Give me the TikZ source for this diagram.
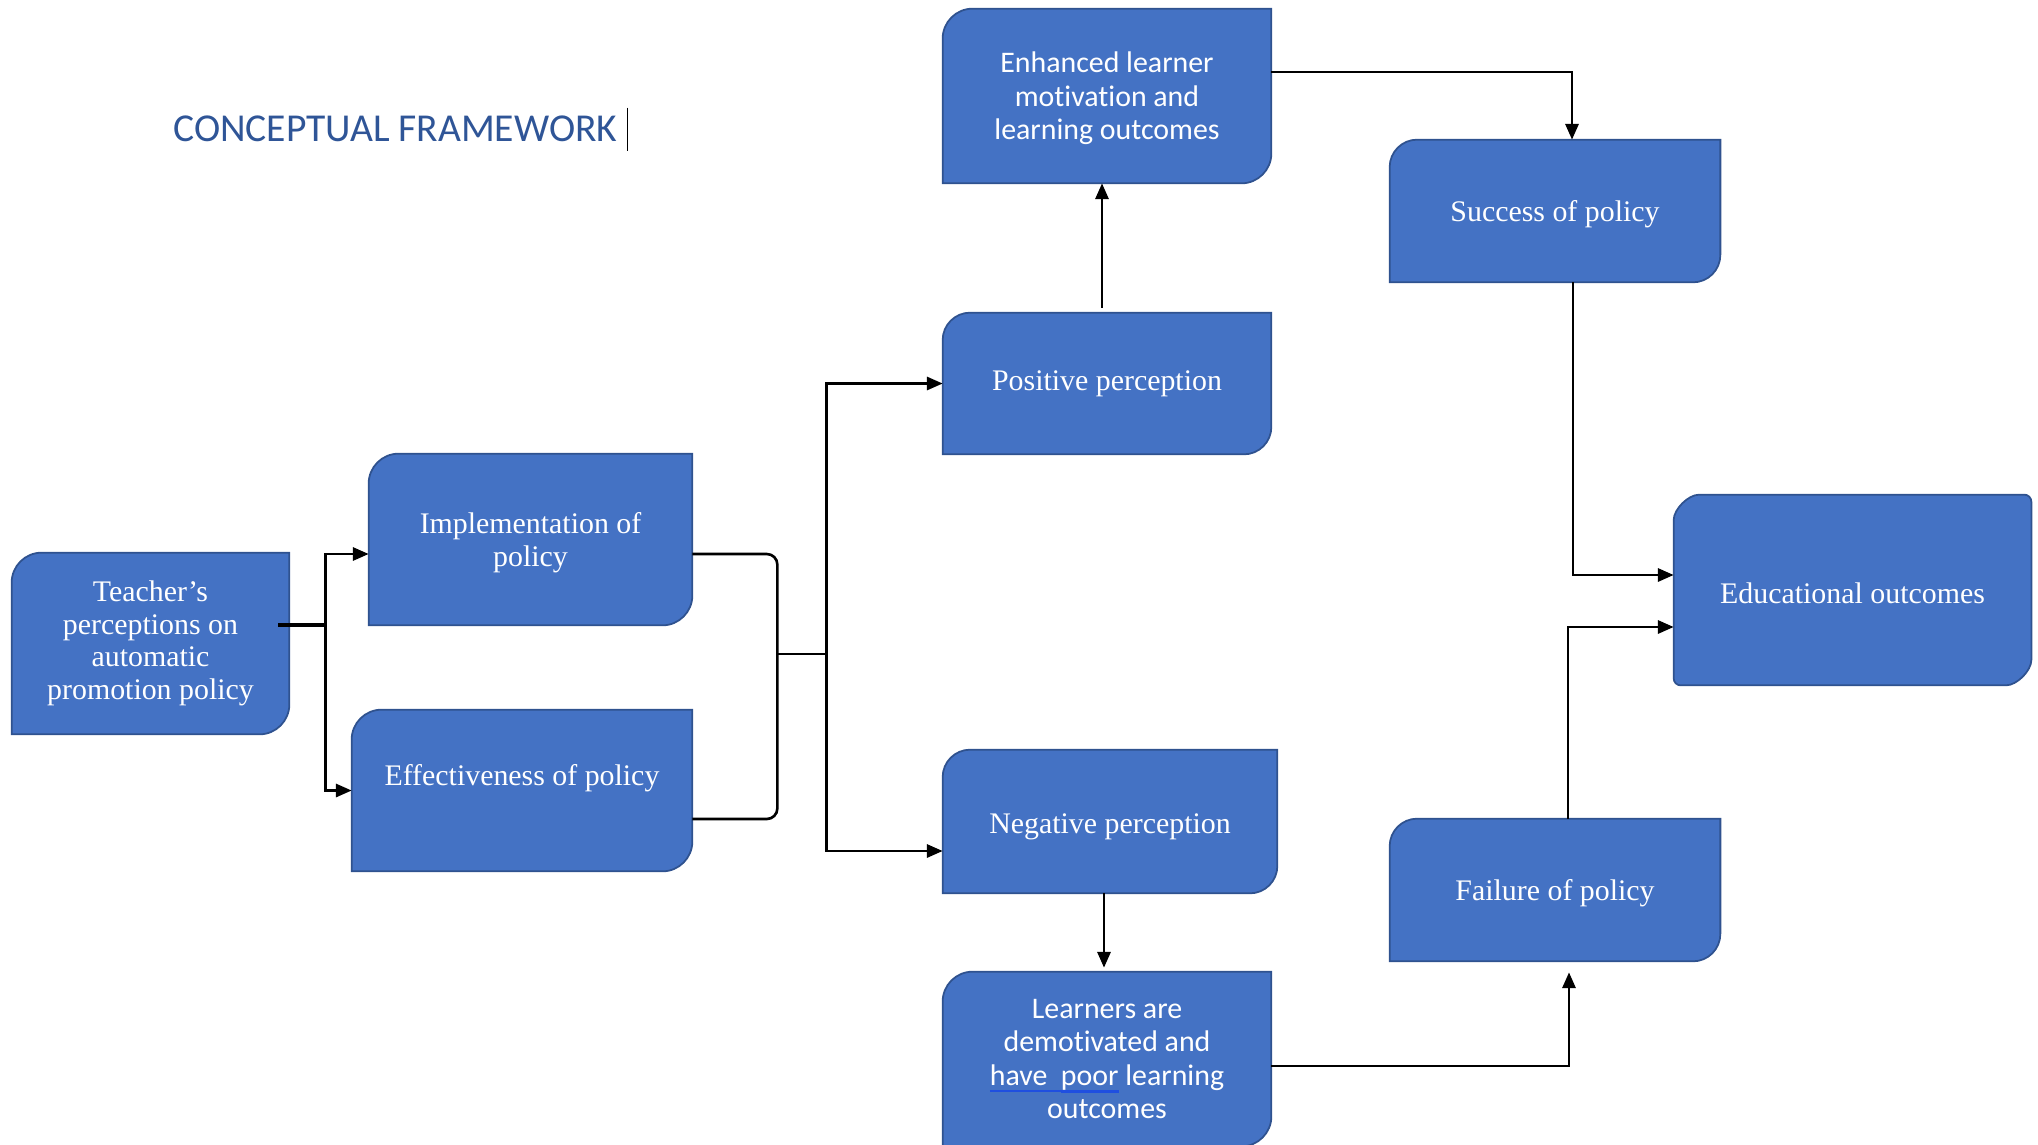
\documentclass[tikz,border=0pt]{standalone}
\usepackage{fontspec}
\setmainfont{Liberation Serif}
\newfontfamily\calibri[Ligatures=NoCommon]{Carlito}
\usetikzlibrary{arrows.meta, backgrounds}
\definecolor{boxblue}{HTML}{4472C4}
\definecolor{boxedge}{HTML}{2F528F}
\definecolor{titleblue}{HTML}{2F5597}
\definecolor{ulblue}{HTML}{1F4FE0}
\newcommand{\blueul}[2][4pt]{\leavevmode\setbox0=\hbox{#2}\rlap{\color{ulblue}\rule[-#1]{\wd0}{1.5pt}}\box0\relax}
\tikzstyle{box} = [rectangle, inner sep=0pt,
align=center, text=white,
font=\fontsize{17}{18.5}\selectfont]
\tikzstyle{calbox} = [box,
font=\calibri\fontsize{17}{19}\selectfont]
\tikzstyle{boxline} = [draw=boxedge, line width=1pt, fill=boxblue]
\tikzstyle{plaincorner} = [sharp corners]
\tikzstyle{softcorner} = [rounded corners=4pt]
\tikzstyle{line} = [line width=1.5pt]
\tikzstyle{stub} = [line width=2.6pt]
\tikzstyle{arrow} = [line width=1.5pt,-{Triangle[length=9pt,width=7.5pt]}]

\begin{document}
\begin{tikzpicture}[node distance=2cm]
                \useasboundingbox (0,0) rectangle (40.76,-22.88);

                \node (title) [anchor=west, inner sep=0pt, text=titleblue, font=\calibri\fontsize{22.5}{27}\selectfont] at (3.46,-2.58) {CONCEPTUAL FRAMEWORK};
                \draw [line width=1pt] ([xshift=0.2cm,yshift=0.43cm]title.east) -- ++(0,-0.86);

                \node (teacher) [box, minimum width=5.54cm, minimum height=3.62cm, yshift=-0.06cm] at (3.01,-12.81) {Teacher’s\\perceptions on\\automatic\\promotion policy};
                \node (impl) [box, minimum width=6.46cm, minimum height=3.42cm, right of=teacher, xshift=5.6cm, yshift=2.08cm, text depth=0pt] {Implementation of\\policy};
                \node (effect) [box, minimum width=6.8cm, minimum height=3.22cm, text depth=0.62cm, below of=impl, xshift=-0.17cm, yshift=-3.02cm] {Effectiveness of policy};
                \node (positive) [box, minimum width=6.56cm, minimum height=2.82cm, right of=impl, xshift=9.53cm, yshift=3.12cm] {Positive perception};
                \node (enhanced) [calbox, minimum width=6.56cm, minimum height=3.48cm, above of=positive, yshift=3.75cm, text depth=0pt] {Enhanced learner\\motivation and\\learning outcomes};
                \node (negative) [box, minimum width=6.68cm, minimum height=2.86cm, below of=positive, xshift=0.06cm, yshift=-6.76cm, text height=0.6cm] {Negative perception};
                \node (learners) [calbox, minimum width=6.56cm, minimum height=3.48cm, below of=negative, xshift=-0.06cm, yshift=-2.75cm] {Learners are\\demotivated and\\\blueul{have\ \ }\blueul[4.3pt]{poor} learning\\outcomes};
                \node (success) [box, minimum width=6.6cm, minimum height=2.84cm, right of=positive, xshift=6.96cm, yshift=3.45cm, text height=0.55cm] {Success of policy};
                \node (failure) [box, minimum width=6.6cm, minimum height=2.84cm, below of=success, yshift=-11.58cm, text height=0.55cm] {Failure of policy};
                \node (edu) [box, minimum width=7.14cm, minimum height=3.8cm, right of=success, xshift=3.95cm, yshift=-7.58cm, text height=0.55cm] {Educational outcomes};

                % box outlines, round top left and bottom right
                \begin{scope}[on background layer]
                \foreach \nm/\rad/\opt in {teacher/0.6cm/plaincorner, impl/0.6cm/plaincorner,
                        effect/0.6cm/plaincorner, positive/0.55cm/plaincorner,
                        enhanced/0.6cm/plaincorner, negative/0.55cm/plaincorner,
                        learners/0.6cm/plaincorner, success/0.55cm/plaincorner,
                        failure/0.55cm/plaincorner, edu/0.65cm/softcorner}
                    \draw [boxline, \opt] ([yshift=-\rad]\nm.north west) arc[start angle=180, end angle=90, radius=\rad]
                        -- (\nm.north east) -- ([yshift=\rad]\nm.south east) arc[start angle=0, end angle=-90, radius=\rad]
                        -- (\nm.south west) -- cycle;
                \end{scope}

                \draw [stub] ([xshift=-0.22cm,yshift=0.37cm]teacher.east) -- ++(0.94,0) coordinate (fork);
                \draw [arrow] (fork) |- ([yshift=-0.29cm]impl.west);
                \draw [arrow] (fork) |- (effect.west);

                \draw [line, rounded corners=6pt] ([yshift=-0.29cm]impl.east) -| ++(1.7,-2.0) coordinate (merge) |- ([yshift=-0.57cm]effect.east);
                \draw [line] (merge) -- ++(0.98,0) coordinate (fan);

                \draw [arrow] (fan) |- (positive.west);
                \draw [arrow] (fan) |- ([yshift=-0.59cm]negative.west);

                \draw [arrow] ([xshift=-0.1cm,yshift=0.1cm]positive.north) -- ([xshift=-0.1cm]enhanced.south);
                \draw [arrow] ([yshift=0.48cm]enhanced.east) -| ([xshift=0.34cm]success.north);
                \draw [arrow] ([xshift=0.36cm]success.south) |- ([yshift=0.3cm]edu.west);

                \draw [arrow] ([xshift=-0.12cm]negative.south) -- ([xshift=-0.12cm,yshift=0.08cm]negative.south |- learners.north);
                \draw [arrow] ([yshift=-0.14cm]learners.east) -| ([xshift=0.28cm,yshift=-0.22cm]failure.south);
                \draw [arrow] ([xshift=0.26cm]failure.north) |- ([yshift=-0.74cm]edu.west);
            \end{tikzpicture}
\end{document}
